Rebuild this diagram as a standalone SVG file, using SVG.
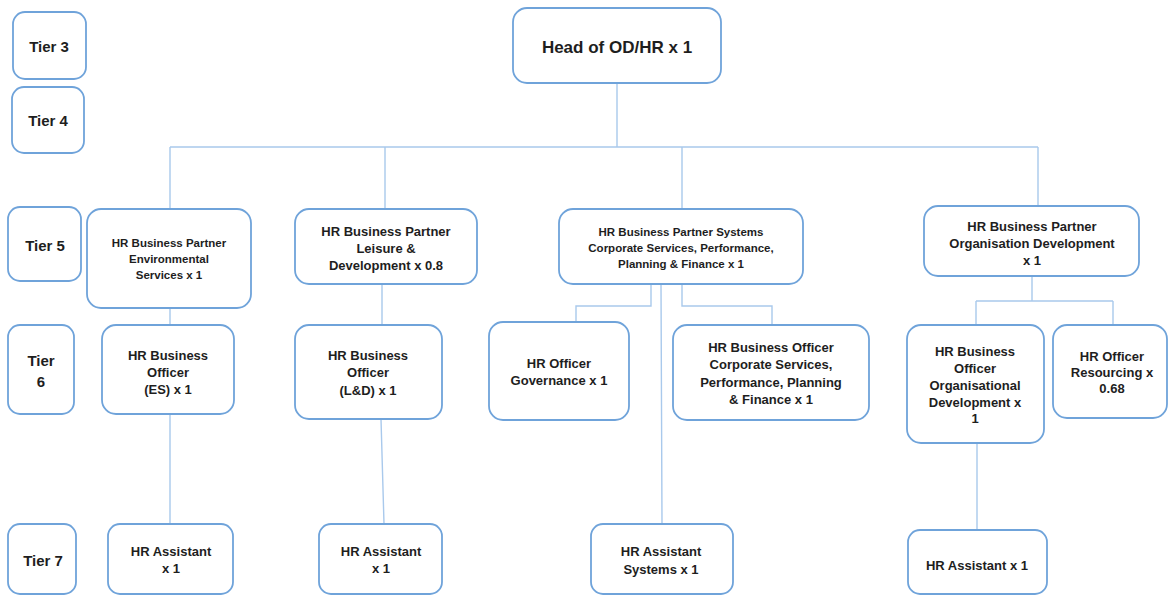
<svg xmlns="http://www.w3.org/2000/svg" width="1169" height="596" viewBox="0 0 1169 596">
<style>
.box{fill:#fff;stroke:#6FA3DA;stroke-width:1.8}
.ln{fill:none;stroke:#A9C9EC;stroke-width:1.4}
text{font-family:"Liberation Sans",Arial,sans-serif;font-weight:bold;fill:#1E1E1E;text-anchor:middle;dominant-baseline:central}
.t{font-size:15px}
.s{font-size:13px}
.xs{font-size:11.5px}
</style>
<rect width="1169" height="596" fill="#fff"/>
<g id="connectors">
<path class="ln" d="M617 83V147M170 147H1038M170 147V209M385 147V209M682 147V209M1038 147V206"/>
<path class="ln" d="M170 308V325M170 414V524"/>
<path class="ln" d="M382 284V325M381 419L384 524"/>
<path class="ln" d="M651 284V306H576V322M682 284V306H772V325M661 284L662 524"/>
<path class="ln" d="M1032 276V301M976 301H1113M976 301V325M1113 301V325M977 443V530"/>
</g>
<g id="tier3"><rect class="box" x="13" y="12" width="73" height="67" rx="12"/><text class="t" x="49" y="46">Tier 3</text></g>
<g id="tier4"><rect class="box" x="12" y="87" width="72" height="66" rx="12"/><text class="t" x="48" y="120">Tier 4</text></g>
<g id="tier5"><rect class="box" x="8" y="207" width="73" height="74" rx="12"/><text class="t" x="45" y="245">Tier 5</text></g>
<g id="tier6"><rect class="box" x="8" y="325" width="66" height="89" rx="12"/><text class="t" x="41" y="360">Tier</text><text class="t" x="41" y="381">6</text></g>
<g id="tier7"><rect class="box" x="8" y="524" width="68" height="70" rx="12"/><text class="t" x="43" y="560">Tier 7</text></g>
<g id="head"><rect class="box" x="513" y="8" width="208" height="75" rx="14"/><text x="617" y="47" style="font-size:17px">Head of OD/HR x 1</text></g>
<g id="bp-env"><rect class="box" x="87" y="209" width="164" height="99" rx="14"/>
<text class="xs" x="169" y="243">HR Business Partner</text><text class="xs" x="169" y="259">Environmental</text><text class="xs" x="169" y="275">Services x 1</text></g>
<g id="bp-leisure"><rect class="box" x="295" y="209" width="182" height="75" rx="14"/>
<text class="s" x="386" y="231">HR Business Partner</text><text class="s" x="386" y="248">Leisure &amp;</text><text class="s" x="386" y="265">Development x 0.8</text></g>
<g id="bp-systems"><rect class="box" x="559" y="209" width="244" height="75" rx="14"/>
<text class="xs" x="681" y="232">HR Business Partner Systems</text><text class="xs" x="681" y="248">Corporate Services, Performance,</text><text class="xs" x="681" y="264">Planning &amp; Finance x 1</text></g>
<g id="bp-od"><rect class="box" x="924" y="206" width="215" height="70" rx="14"/>
<text class="s" x="1032" y="226">HR Business Partner</text><text class="s" x="1032" y="243">Organisation Development</text><text class="s" x="1032" y="260">x 1</text></g>
<g id="bo-es"><rect class="box" x="102" y="325" width="132" height="89" rx="14"/>
<text class="s" x="168" y="355">HR Business</text><text class="s" x="168" y="372">Officer</text><text class="s" x="168" y="389">(ES) x 1</text></g>
<g id="bo-ld"><rect class="box" x="295" y="325" width="147" height="94" rx="14"/>
<text class="s" x="368" y="355">HR Business</text><text class="s" x="368" y="372">Officer</text><text class="s" x="368" y="390">(L&amp;D) x 1</text></g>
<g id="ho-gov"><rect class="box" x="489" y="322" width="140" height="98" rx="14"/>
<text class="s" x="559" y="363">HR Officer</text><text class="s" x="559" y="380">Governance x 1</text></g>
<g id="bo-corp"><rect class="box" x="673" y="325" width="196" height="95" rx="14"/>
<text class="s" x="771" y="347">HR Business Officer</text><text class="s" x="771" y="364">Corporate Services,</text><text class="s" x="771" y="382">Performance, Planning</text><text class="s" x="771" y="399">&amp; Finance x 1</text></g>
<g id="bo-od"><rect class="box" x="907" y="325" width="137" height="118" rx="14"/>
<text class="s" x="975" y="351">HR Business</text><text class="s" x="975" y="368">Officer</text><text class="s" x="975" y="385">Organisational</text><text class="s" x="975" y="402">Development x</text><text class="s" x="975" y="418">1</text></g>
<g id="ho-res"><rect class="box" x="1053" y="325" width="114" height="93" rx="14"/>
<text class="s" x="1112" y="356">HR Officer</text><text class="s" x="1112" y="372">Resourcing x</text><text class="s" x="1112" y="388">0.68</text></g>
<g id="ha-es"><rect class="box" x="108" y="524" width="125" height="70" rx="12"/>
<text class="s" x="171" y="551">HR Assistant</text><text class="s" x="171" y="568">x 1</text></g>
<g id="ha-ld"><rect class="box" x="319" y="524" width="123" height="70" rx="12"/>
<text class="s" x="381" y="551">HR Assistant</text><text class="s" x="381" y="568">x 1</text></g>
<g id="ha-sys"><rect class="box" x="591" y="524" width="142" height="70" rx="12"/>
<text class="s" x="661" y="551">HR Assistant</text><text class="s" x="661" y="569">Systems x 1</text></g>
<g id="ha-od"><rect class="box" x="908" y="530" width="139" height="64" rx="12"/>
<text class="s" x="977" y="565">HR Assistant x 1</text></g>
</svg>
